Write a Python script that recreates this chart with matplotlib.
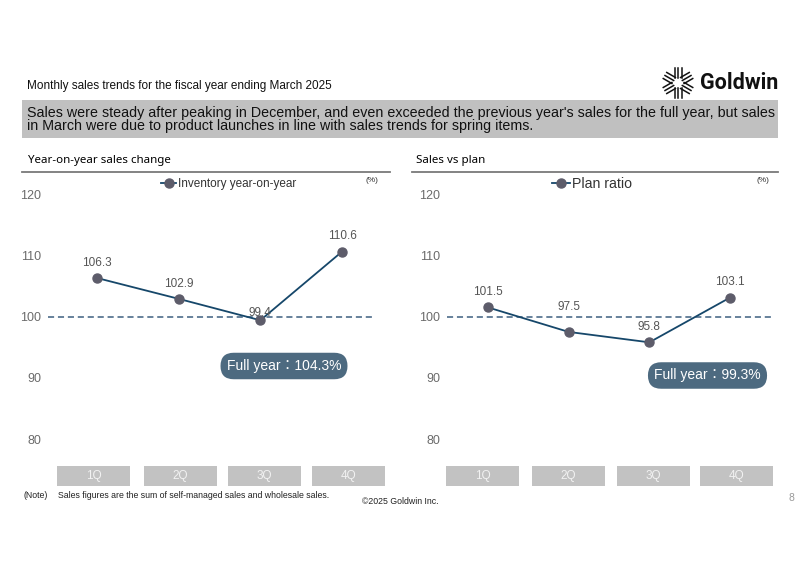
import matplotlib.pyplot as plt
import numpy as np
from matplotlib.patches import Rectangle
from matplotlib.lines import Line2D

plt.rcParams['font.family'] = ['Liberation Sans', 'Noto Sans CJK JP', 'DejaVu Sans']

# data
quarters = ['1Q', '2Q', '3Q', '4Q']
yoy = [106.3, 102.9, 99.4, 110.6]
plan = [101.5, 97.5, 95.8, 103.1]
yticks = [80, 90, 100, 110, 120]
yoy_full = 'Full year\uff1a104.3%'
plan_full = 'Full year\uff1a99.3%'

W, H = 800, 565
line_c = '#16476a'
mark_c = '#5d5c6a'
dash_c = '#3d5f80'
badge_c = '#4d6a80'
tick_c = '#6b6b6b'

fig = plt.figure(figsize=(8, 5.65), dpi=100)


def fx(x):
    return x / W


def fy(y):
    return 1 - y / H


# header texts
fig.text(fx(27), fy(86), 'Monthly sales trends for the fiscal year ending March 2025',
         fontsize=8.5, va='center', ha='left', color='#111111')
fig.patches.append(Rectangle((fx(22), fy(138)), fx(756), 38 / H, transform=fig.transFigure,
                             facecolor='#c0c0c0', edgecolor='none', zorder=0))
fig.text(fx(27), fy(119.5),
         "Sales were steady after peaking in December, and even exceeded the previous year's sales for the full year, but sales\n"
         "in March were due to product launches in line with sales trends for spring items.",
         fontsize=10.3, va='center', ha='left', linespacing=0.85, color='#111111')

# logo
fig.text(fx(700), fy(83), 'Goldwin', fontsize=15.5, fontweight='bold', family='Roboto',
         va='center', ha='left', color='#111111')
cx, cy = 678, 83
for ang in [90, 30, -30]:
    a = np.deg2rad(ang)
    dx, dy = np.cos(a), np.sin(a)
    px, py = -dy, dx
    for off in [-3.5, 0, 3.5]:
        for sgn in [1, -1]:
            x0 = cx + px * off + sgn * dx * 5
            y0 = cy - (py * off + sgn * dy * 5)
            x1 = cx + px * off + sgn * dx * 15
            y1 = cy - (py * off + sgn * dy * 15)
            fig.lines.append(Line2D([fx(x0), fx(x1)], [fy(y0), fy(y1)],
                                    transform=fig.transFigure, color='#111111', lw=1.1))

# section titles and rules
fig.text(fx(28), fy(160), 'Year-on-year sales change', fontsize=8.3, fontweight='bold',
         family='Noto Sans', va='center', ha='left')
fig.text(fx(416), fy(160), 'Sales vs plan', fontsize=8.3, fontweight='bold',
         family='Noto Sans', va='center', ha='left')
for x0, x1 in [(22, 390), (412, 778)]:
    fig.lines.append(Line2D([fx(x0), fx(x1)], [fy(172), fy(172)], transform=fig.transFigure,
                            color='#7a7a7a', lw=1.3))


def panel(left, right, p0, step, box_px, vals, label, full, badge_px, offsets, dash_end,
          leg_x, leg_fs, pct_x):
    width = right - left
    ax = fig.add_axes([fx(left), fy(490), fx(width), 318 / H])
    x = np.arange(len(quarters))
    ax.set_xlim((left - p0) / step, (right - p0) / step)
    ax.set_ylim(71.7, 123.6)
    ax.axhline(100, xmin=0, xmax=(dash_end - left) / width, color=dash_c, lw=1.1,
               ls=(0, (4, 2.5)), zorder=1)
    ln, = ax.plot(x, vals, color=line_c, lw=1.3, marker='o', markersize=6.5,
                  markerfacecolor=mark_c, markeredgecolor=mark_c, zorder=3, label=label)
    for xi, v, off in zip(x, vals, offsets):
        ax.annotate(f'{v:.1f}', (xi, v), xytext=(0, off), textcoords='offset points',
                    ha='center', va='center', fontsize=8.5, color='#555555')
    bw = 73 / step
    for bp, q in zip(box_px, quarters):
        bx = (bp - p0) / step
        ax.add_patch(Rectangle((bx - bw / 2, 0.0126), bw, 0.063,
                               transform=ax.get_xaxis_transform(),
                               facecolor='#c2c2c2', edgecolor='none', clip_on=False))
        ax.text(bx, 0.044, q, transform=ax.get_xaxis_transform(), ha='center', va='center',
                fontsize=8.5, color='#f2f2f2')
    ax.set_yticks(yticks)
    ax.set_yticklabels([str(t) for t in yticks])
    ax.tick_params(axis='y', length=0, pad=5, labelsize=9, labelcolor=tick_c)
    ax.set_xticks([])
    for s in ax.spines.values():
        s.set_visible(False)
    ax.patch.set_alpha(0)
    fig.text(fx(badge_px[0]), fy(badge_px[1]), full, ha='center', va='center', fontsize=10,
             color='white',
             bbox=dict(boxstyle='round,pad=0.45,rounding_size=0.95', facecolor=badge_c,
                       edgecolor='none'))
    leg = ax.legend(handles=[ln], loc='center left',
                    bbox_to_anchor=((leg_x - left) / width, (490 - 184) / 318),
                    frameon=False, handlelength=1.3, handletextpad=0.1,
                    fontsize=leg_fs, borderaxespad=0, borderpad=0)
    for t in leg.get_texts():
        t.set_color('#333333')
    fig.text(fx(pct_x), fy(180), '(%)', fontsize=6, color='#333333', ha='center', va='center')
    return ax


panel(48, 390, 97, 81.67, [93.5, 180.5, 264.5, 348.5], yoy, 'Inventory year-on-year',
      yoy_full, (284, 366), [11, 11, 5.5, 11], 373, 161, 8.5, 372)
panel(447, 778, 488, 80.67, [482.5, 568.5, 653.5, 736.5], plan, 'Plan ratio',
      plan_full, (707.5, 375.5), [11, 18, 11, 11], 773, 552, 10.2, 763)

# footer
fig.text(fx(23), fy(496), '(Note)', fontsize=6.3, va='center', ha='left', color='#222222')
fig.text(fx(58), fy(496), 'Sales figures are the sum of self-managed sales and wholesale sales.',
         fontsize=6.3, va='center', ha='left', color='#222222')
fig.text(fx(400), fy(501), '\u00a92025 Goldwin Inc.', fontsize=6.3, va='center', ha='center',
         color='#222222')
fig.text(fx(791), fy(498), '8', fontsize=7.5, va='center', ha='center', color='#999999')

fig.savefig('out.png', dpi=100)
